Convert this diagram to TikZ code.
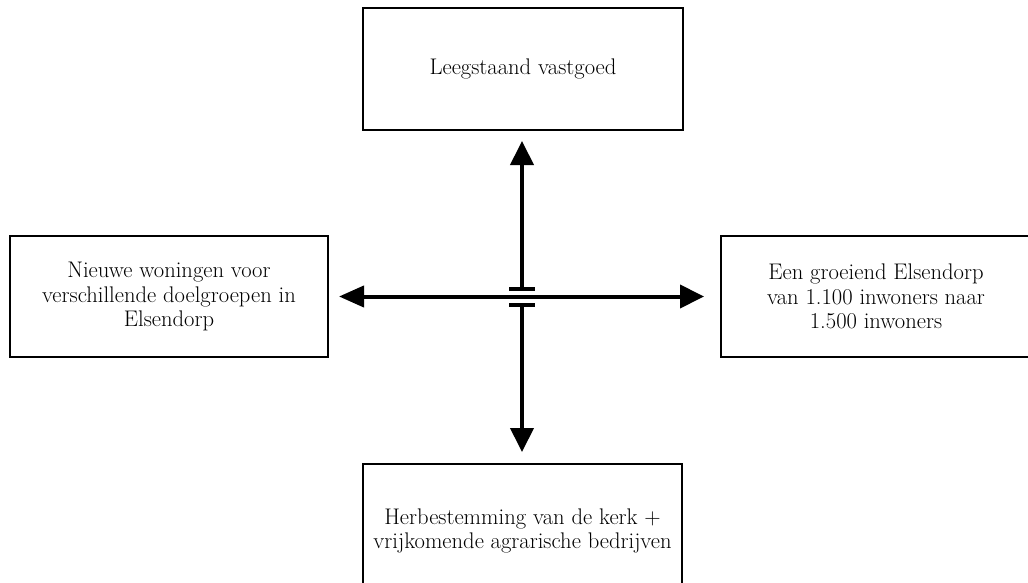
\documentclass[tikz,border=0pt]{standalone}
\usetikzlibrary{arrows.meta}
\begin{document}
\begin{tikzpicture}[x=1pt,y=-1pt,
  box/.style={draw=black, line width=2pt, fill=white, align=center, inner sep=0pt,
    font=\fontsize{22.6}{24.5}\selectfont},
  arr/.style={line width=4pt, -{Triangle[length=24pt,width=23pt]}},
  darr/.style={line width=4pt, {Triangle[length=25pt,width=21pt]}-{Triangle[length=24pt,width=23pt]}},
  bar/.style={line width=4pt}]
  \useasboundingbox (0,0) rectangle (1028,583);
  \clip (0,0) rectangle (1028,583);
  \fill[white] (0,0) rectangle (1028,583);

  % the four boxes
  \node[box, minimum width=320pt, minimum height=122pt] (top) at (523,69)
    {Leegstaand vastgoed};
  \node[box, minimum width=318pt, minimum height=121pt] (left) at (169,296.5)
    {Nieuwe woningen voor\\verschillende doelgroepen in\\Elsendorp};
  \node[box, minimum width=310pt, minimum height=121pt] (right) at (876,296.5)
    {Een groeiend Elsendorp\\van 1.100 inwoners naar\\1.500 inwoners};
  \node[box, minimum width=319pt, minimum height=134pt] (bottom) at (522.5,531)
    {Herbestemming van de kerk +\\vrijkomende agrarische bedrijven};

  % crossing with a line jump
  \coordinate (jt) at (522,289);
  \coordinate (jb) at (522,305);
  \draw[darr, shorten <=10pt, shorten >=16pt] (left) -- (right);
  \draw[arr, shorten >=10pt] (jt) -- (jt |- top.south);
  \draw[arr, shorten >=11pt] (jb) -- (jb |- bottom.north);
  \draw[bar] ([xshift=-13pt]jt) -- ([xshift=13pt]jt);
  \draw[bar] ([xshift=-13pt]jb) -- ([xshift=13pt]jb);
\end{tikzpicture}
\end{document}
